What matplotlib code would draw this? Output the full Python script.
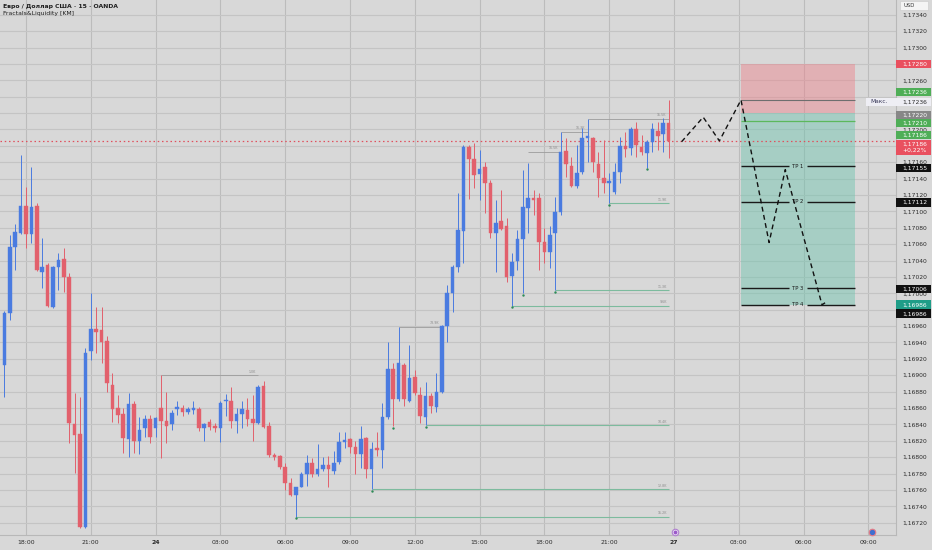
import matplotlib
matplotlib.use("Agg")
import matplotlib.pyplot as plt
from matplotlib.patches import Rectangle
from matplotlib.transforms import offset_copy, blended_transform_factory
import numpy as np

# ---------------- data ----------------
first_index = -4
opens = [1.16913, 1.16976, 1.17057, 1.17074, 1.17107, 1.17072, 1.17107, 1.17026, 1.17035, 1.16983,
         1.17032, 1.17042, 1.17020, 1.16841, 1.16828, 1.16715, 1.16929, 1.16957, 1.16955, 1.16942,
         1.16888, 1.16860, 1.16853, 1.16822, 1.16865, 1.16820, 1.16835, 1.16847, 1.16835, 1.16860,
         1.16844, 1.16841, 1.16859, 1.16860, 1.16855, 1.16858, 1.16859, 1.16835, 1.16843, 1.16838,
         1.16835, 1.16868, 1.16869, 1.16844, 1.16853, 1.16857, 1.16847, 1.16842, 1.16887, 1.16838,
         1.16803, 1.16802, 1.16788, 1.16769, 1.16754, 1.16764, 1.16779, 1.16793, 1.16779, 1.16785,
         1.16791, 1.16783, 1.16794, 1.16819, 1.16822, 1.16813, 1.16804, 1.16824, 1.16785, 1.16811,
         1.16809, 1.16849, 1.16908, 1.16871, 1.16913, 1.16869, 1.16898, 1.16876, 1.16849, 1.16875,
         1.16861, 1.16880, 1.16960, 1.17000, 1.17032, 1.17076, 1.17179, 1.17164, 1.17146, 1.17154,
         1.17135, 1.17074, 1.17088, 1.17082, 1.17021, 1.17040, 1.17066, 1.17104, 1.17116, 1.17116,
         1.17063, 1.17051, 1.17074, 1.17099, 1.17174, 1.17155, 1.17131, 1.17148, 1.17190, 1.17190,
         1.17158, 1.17141, 1.17135, 1.17124, 1.17148, 1.17180, 1.17177, 1.17201, 1.17179, 1.17171,
         1.17185, 1.17198, 1.17195, 1.17208]
highs = [1.16978, 1.17071, 1.17084, 1.17169, 1.17130, 1.17154, 1.17110, 1.17068, 1.17037, 1.17033,
         1.17049, 1.17055, 1.17025, 1.16878, 1.16874, 1.16933, 1.17000, 1.16983, 1.16983, 1.16948,
         1.16903, 1.16876, 1.16860, 1.16878, 1.16868, 1.16849, 1.16852, 1.16852, 1.16849, 1.16900,
         1.16880, 1.16858, 1.16868, 1.16864, 1.16861, 1.16868, 1.16861, 1.16842, 1.16846, 1.16842,
         1.16868, 1.16877, 1.16886, 1.16860, 1.16868, 1.16872, 1.16876, 1.16888, 1.16893, 1.16843,
         1.16805, 1.16803, 1.16793, 1.16775, 1.16764, 1.16782, 1.16803, 1.16799, 1.16816, 1.16800,
         1.16802, 1.16807, 1.16831, 1.16831, 1.16824, 1.16820, 1.16838, 1.16825, 1.16819, 1.16831,
         1.16866, 1.16940, 1.16915, 1.16959, 1.16915, 1.16937, 1.16907, 1.16886, 1.16892, 1.16878,
         1.16903, 1.16961, 1.17010, 1.17035, 1.17122, 1.17181, 1.17181, 1.17183, 1.17175, 1.17160,
         1.17138, 1.17114, 1.17126, 1.17092, 1.17049, 1.17077, 1.17151, 1.17159, 1.17126, 1.17122,
         1.17080, 1.17082, 1.17118, 1.17197, 1.17190, 1.17166, 1.17181, 1.17202, 1.17213, 1.17191,
         1.17173, 1.17187, 1.17147, 1.17159, 1.17191, 1.17197, 1.17203, 1.17209, 1.17193, 1.17187,
         1.17208, 1.17209, 1.17214, 1.17236]
lows = [1.16874, 1.16968, 1.17029, 1.17072, 1.17055, 1.17062, 1.17027, 1.17007, 1.16983, 1.16982,
        1.17004, 1.17002, 1.16817, 1.16781, 1.16714, 1.16713, 1.16919, 1.16927, 1.16915, 1.16880,
        1.16843, 1.16842, 1.16805, 1.16800, 1.16805, 1.16804, 1.16825, 1.16817, 1.16825, 1.16799,
        1.16817, 1.16833, 1.16852, 1.16850, 1.16853, 1.16853, 1.16832, 1.16820, 1.16833, 1.16831,
        1.16819, 1.16850, 1.16835, 1.16830, 1.16835, 1.16838, 1.16820, 1.16840, 1.16836, 1.16800,
        1.16797, 1.16785, 1.16760, 1.16752, 1.16727, 1.16763, 1.16765, 1.16776, 1.16777, 1.16783,
        1.16764, 1.16779, 1.16792, 1.16811, 1.16805, 1.16780, 1.16787, 1.16775, 1.16761, 1.16802,
        1.16787, 1.16847, 1.16838, 1.16869, 1.16863, 1.16867, 1.16876, 1.16842, 1.16839, 1.16854,
        1.16855, 1.16878, 1.16940, 1.16977, 1.17026, 1.17037, 1.17115, 1.17129, 1.17114, 1.17098,
        1.17068, 1.17026, 1.17077, 1.17014, 1.16985, 1.17029, 1.17000, 1.17074, 1.17096, 1.17029,
        1.17037, 1.17031, 1.17004, 1.17096, 1.17142, 1.17130, 1.17129, 1.17146, 1.17160, 1.17148,
        1.17118, 1.17123, 1.17110, 1.17121, 1.17135, 1.17166, 1.17169, 1.17166, 1.17169, 1.17153,
        1.17173, 1.17175, 1.17173, 1.17165]
closes = [1.16976, 1.17057, 1.17075, 1.17107, 1.17072, 1.17105, 1.17029, 1.17032, 1.16985, 1.17032,
          1.17041, 1.17020, 1.16842, 1.16827, 1.16715, 1.16927, 1.16957, 1.16953, 1.16940, 1.16891,
          1.16859, 1.16852, 1.16824, 1.16865, 1.16820, 1.16833, 1.16847, 1.16825, 1.16848, 1.16844,
          1.16838, 1.16854, 1.16861, 1.16855, 1.16859, 1.16860, 1.16835, 1.16841, 1.16837, 1.16835,
          1.16866, 1.16870, 1.16844, 1.16853, 1.16859, 1.16847, 1.16842, 1.16886, 1.16837, 1.16803,
          1.16800, 1.16788, 1.16769, 1.16754, 1.16763, 1.16779, 1.16793, 1.16779, 1.16785, 1.16791,
          1.16785, 1.16793, 1.16819, 1.16820, 1.16813, 1.16804, 1.16822, 1.16785, 1.16810, 1.16809,
          1.16849, 1.16908, 1.16871, 1.16915, 1.16871, 1.16897, 1.16878, 1.16850, 1.16875, 1.16863,
          1.16880, 1.16960, 1.17000, 1.17032, 1.17077, 1.17179, 1.17164, 1.17144, 1.17152, 1.17135,
          1.17074, 1.17086, 1.17079, 1.17020, 1.17038, 1.17066, 1.17105, 1.17116, 1.17114, 1.17063,
          1.17051, 1.17071, 1.17099, 1.17173, 1.17158, 1.17131, 1.17147, 1.17190, 1.17191, 1.17160,
          1.17141, 1.17135, 1.17137, 1.17148, 1.17180, 1.17176, 1.17201, 1.17181, 1.17173, 1.17185,
          1.17201, 1.17192, 1.17208, 1.17186]

time_tick_idx = [0, 12, 24, 36, 48, 60, 72, 84, 96, 108, 120, 132, 144, 156]
time_tick_labels = ["18:00", "21:00", "24", "03:00", "06:00", "09:00", "12:00", "15:00",
                    "18:00", "21:00", "27", "03:00", "06:00", "09:00"]
day_labels = ["24", "27"]

price_ticks = [round(1.16720 + 0.0002 * i, 5) for i in range(32)]
covered_ticks = [1.17280, 1.17240, 1.17220, 1.17180, 1.16980]

title_line = "Евро / Доллар США · 15 · OANDA"
indicator_line = "Fractals&Liquidity [KM]"

last_price = 1.17186
change_text = "+0,22%"
max_price = 1.17236
max_text = "Макс."

# short position tool
entry_price = 1.17220
stop_price = 1.17280
inner_level = 1.17210
target_prices = [1.17155, 1.17112, 1.17006, 1.16986]
target_names = ["TP 1", "TP 2", "TP 3", "TP 4"]

# projected path drawing
path_idx = [121.4, 125.4, 128.4, 132.4, 137.6, 140.6, 147.4, 148.1]
path_price = [1.17185, 1.17215, 1.17186, 1.17236, 1.17062, 1.17151, 1.16986, 1.16989]

# fractal liquidity lines
support_start = [50, 64, 74, 90, 98, 108]
support_texts = ["15.2K", "12.8K", "10.4K", "9.6K", "11.3K", "11.9K"]
fractal_low_idx = [50, 64, 68, 74, 90, 92, 98, 108, 115]
resist_start = [25, 69, 93, 99, 104]
resist_end = [43, 77, 99, 104, 119]
resist_price = [1.16900, 1.16959, 1.17173, 1.17197, 1.17213]
resist_texts = ["1.0K", "73.9K", "16.5K", "16.3K", "15.5K"]

# ---------------- styling ----------------
BG = "#d8d8d8"
BLUE = "#4a7be0"
RED = "#e2606c"
GRID = "#c4c4c4"
TXT = "#2a2a2a"

W, H = 932, 550
PLOT_W, PLOT_H = 896, 535

fig = plt.figure(figsize=(W / 100, H / 100), dpi=100, facecolor=BG)
ax = fig.add_axes([0, (H - PLOT_H) / H, PLOT_W / W, PLOT_H / H], facecolor=BG)

x0, x1 = -4.8, 161.1
y0, y1 = 1.16705, 1.17358
ax.set_xlim(x0, x1)
ax.set_ylim(y0, y1)
dpp = (y1 - y0) / PLOT_H          # price per pixel

o = np.array(opens); h = np.array(highs); l = np.array(lows); c = np.array(closes)
idx = np.arange(first_index, first_index + len(o))

# grid
ax.set_yticks(price_ticks)
ax.set_xticks(time_tick_idx)
ax.grid(True, axis="y", color=GRID, lw=0.8, zorder=0)
ax.grid(True, axis="x", color="#bcbcbc", lw=0.8, zorder=0)
ax.set_axisbelow(True)

ax.yaxis.tick_right()
fmt = lambda v: f"{v:.5f}".replace(".", ",")
ax.set_yticklabels(["" if any(abs(v - cv) < 1e-7 for cv in covered_ticks) else fmt(v) for v in price_ticks])
ax.tick_params(axis="y", length=0, pad=4.5, labelsize=4.3, labelcolor=TXT)
ax.set_xticklabels(time_tick_labels)
ax.tick_params(axis="x", length=0, pad=3.5, labelsize=4.4, labelcolor=TXT)
for lab in ax.get_xticklabels():
    if lab.get_text() in day_labels:
        lab.set_fontweight("bold")
for s in ["left", "top"]:
    ax.spines[s].set_visible(False)
for s in ["right", "bottom"]:
    ax.spines[s].set_color("#b8b8b8")
    ax.spines[s].set_linewidth(0.8)

# position tool zones
tool_x0 = 132.4
tool_x1 = 153.5
ax.add_patch(Rectangle((tool_x0, entry_price), tool_x1 - tool_x0, stop_price - entry_price,
                       fc=(0.93, 0.50, 0.54, 0.45), ec="none", zorder=1))
ax.add_patch(Rectangle((tool_x0, target_prices[-1]), tool_x1 - tool_x0, entry_price - target_prices[-1],
                       fc=(0.42, 0.77, 0.68, 0.45), ec="none", zorder=1))
ax.hlines(max_price, tool_x0, tool_x1, color="#6e6e6e", lw=0.8, zorder=2)
ax.hlines(inner_level, tool_x0, tool_x1, color="#5cb85c", lw=0.9, zorder=2)
mid = (tool_x0 + tool_x1) / 2
gap = 1.6
for p, name in zip(target_prices, target_names):
    ax.hlines(p, tool_x0, mid - gap, color="#1a1a1a", lw=1.0, zorder=2)
    ax.hlines(p, mid + gap, tool_x1, color="#1a1a1a", lw=1.0, zorder=2)
    ax.text(mid, p, name, ha="center", va="center", fontsize=3.8, color="#1a1a1a", zorder=3)

# fractal liquidity lines
for s, t in zip(support_start, support_texts):
    p = l[s - first_index]
    ax.hlines(p, s, idx[-1], color="#7dbb9e", lw=0.8, zorder=2)
    ax.text(idx[-1] - 0.3, p + 1.5 * dpp, t, ha="right", va="bottom", fontsize=2.3, color="#8a8a8a", zorder=3)
for s, e, p, t in zip(resist_start, resist_end, resist_price, resist_texts):
    ax.hlines(p, s, e, color="#9c9c9c", lw=0.6, zorder=2)
    ax.text(e - 0.5, p + 1.5 * dpp, t, ha="right", va="bottom", fontsize=2.3, color="#8a8a8a", zorder=3)
fl = np.array(fractal_low_idx)
ax.scatter(fl, l[fl - first_index] - 1.5 * dpp, s=3, color="#2e8b57", zorder=5, linewidths=0)

# candles
up = c >= o
cols = np.where(up, BLUE, RED)
ax.vlines(idx, l, h, colors=cols, lw=0.7, zorder=3)
bottom = np.minimum(o, c)
height = np.maximum(np.abs(c - o), 1.2 * dpp)
ax.bar(idx, height, bottom=bottom, width=0.66, color=cols, edgecolor=cols, lw=0.3, zorder=4)

# current price dotted line
ax.axhline(last_price, color="#e0505d", lw=0.9, ls=(0, (1.2, 2.2)), zorder=2.5)

# projected path
ax.plot(path_idx, path_price, color="#111111", lw=1.0, ls=(0, (3.5, 2.5)), zorder=6)

# header
ax.text(3 / PLOT_W, 1 - 6 / PLOT_H, title_line, transform=ax.transAxes, fontsize=4.4,
        fontweight="bold", color="#1e1e1e", va="center", ha="left")
ax.text(3 / PLOT_W, 1 - 13 / PLOT_H, indicator_line, transform=ax.transAxes, fontsize=4.4,
        color="#1e1e1e", va="center", ha="left")

# price axis labels with colored boxes
ytrans = ax.get_yaxis_transform()
box_w = 34 / PLOT_W


def price_box(price, text, bg, fg, dy=0.0, hpx=8.6, x_start=1.0, extra=None):
    tr = offset_copy(ytrans, fig=fig, x=0, y=-dy, units="dots")
    ax.add_patch(Rectangle((x_start, price - hpx / 2 * dpp), 1.0 + box_w - x_start + 0.001, hpx * dpp,
                           transform=tr, fc=bg, ec="none", clip_on=False, zorder=10))
    ax.text(1.0 + 6 / PLOT_W, price, text, transform=tr, fontsize=4.3, color=fg,
            ha="left", va="center", clip_on=False, zorder=11, linespacing=1.3)
    if extra is not None:
        ax.text(x_start + 4 / PLOT_W, price, extra, transform=tr, fontsize=4.2, color="#3a3a5a",
                ha="left", va="center", clip_on=False, zorder=11)


price_box(stop_price, fmt(stop_price), "#e9505f", "white")
price_box(max_price, fmt(max_price), "#4fae57", "white", dy=-8)
price_box(max_price, fmt(max_price), "#eeeef4", "#2a2a2a", dy=2, x_start=1.0 - 30 / PLOT_W, extra=max_text)
price_box(entry_price, fmt(entry_price), "#878787", "white", dy=2)
price_box(inner_level, fmt(inner_level), "#4fae57", "white", dy=1.7)
price_box(last_price, fmt(last_price), "#4fae57", "white", dy=-6)
price_box(last_price, fmt(last_price) + "\n" + change_text, "#e9505f", "white", dy=6.5, hpx=15.5)
price_box(target_prices[0], fmt(target_prices[0]), "#111111", "white", dy=1.6)
price_box(target_prices[1], fmt(target_prices[1]), "#111111", "white", dy=1.0)
price_box(target_prices[2], fmt(target_prices[2]), "#111111", "white", dy=0.5)
price_box(target_prices[3], fmt(target_prices[3]), "#1f9d88", "white", dy=0)
price_box(target_prices[3], fmt(target_prices[3]), "#111111", "white", dy=9)

# USD tag
fig.patches.append(Rectangle((900 / W, 1 - 10 / H), 28 / W, 9 / H, transform=fig.transFigure,
                             fc="#f4f4f4", ec="#c8c8c8", lw=0.4))
fig.text(903 / W, 1 - 5.5 / H, "USD", fontsize=3.8, color="#333333", va="center", ha="left")

# bottom icons
bt = blended_transform_factory(ax.transData, ax.transAxes)
ax.scatter([120.2], [3 / PLOT_H], s=22, color="#ece4f4", edgecolors="#b07fd0", linewidths=0.8,
           transform=bt, zorder=12, clip_on=False)
ax.scatter([120.2], [3 / PLOT_H], s=3, color="#9b59c9", transform=bt, zorder=13, clip_on=False)
ax.scatter([156.7], [3 / PLOT_H], s=22, color="#3f6fd0", edgecolors="#e57b86", linewidths=0.8,
           transform=bt, zorder=12, clip_on=False)

fig.savefig("out.png", dpi=100, facecolor=BG)
